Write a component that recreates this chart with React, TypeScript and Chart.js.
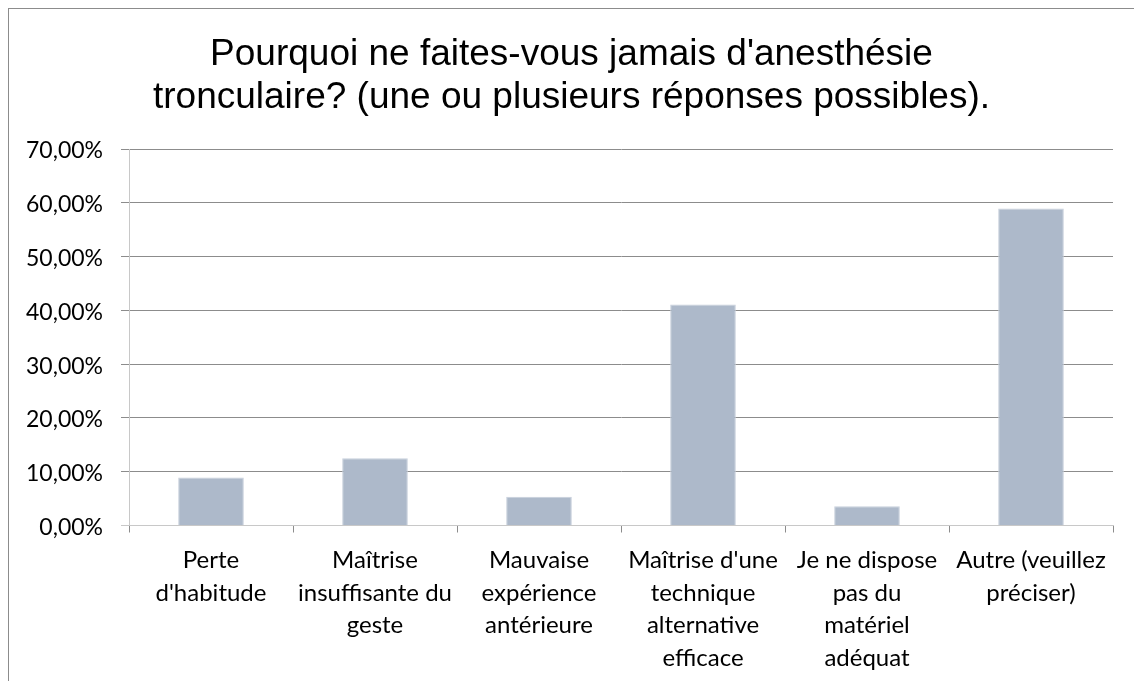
import React, { useEffect, useRef } from "react";
import { Chart, registerables } from "chart.js";

Chart.register(...registerables);

const titleLines = [
  "Pourquoi ne faites-vous jamais d'anesthésie",
  "tronculaire? (une ou plusieurs réponses possibles).",
];

const categories: string[][] = [
  ["Perte", "d'habitude"],
  ["Maîtrise", "insuffisante du", "geste"],
  ["Mauvaise", "expérience", "antérieure"],
  ["Maîtrise d'une", "technique", "alternative", "efficace"],
  ["Je ne dispose", "pas du", "matériel", "adéquat"],
  ["Autre (veuillez", "préciser)"],
];

const percentages = [8.93, 12.5, 5.36, 41.07, 3.57, 58.93];

const yMin = 0;
const yMax = 70;
const yStep = 10;

const CANVAS_W = 1125;
const CANVAS_H = 672;

export default function App() {
  const canvasRef = useRef<HTMLCanvasElement | null>(null);

  useEffect(() => {
    const canvas = canvasRef.current;
    if (!canvas) return;
    const labelFont = { family: "Lato", size: 24, lineHeight: "32.5px" };
    const chart = new Chart(canvas, {
      type: "bar",
      data: {
        labels: categories,
        datasets: [
          {
            data: percentages,
            backgroundColor: "#ADB9CA",
            borderColor: "#C7CFDB",
            borderWidth: 1,
            barPercentage: 0.4,
            categoryPercentage: 1,
          },
        ],
      },
      options: {
        animation: false,
        responsive: false,
        maintainAspectRatio: false,
        devicePixelRatio: 1,
        layout: { padding: 0 },
        plugins: {
          legend: { display: false },
          tooltip: { enabled: false },
          title: {
            display: true,
            text: titleLines,
            color: "#000000",
            font: { family: "Liberation Sans", size: 37, weight: "normal", lineHeight: "43px" },
            padding: { top: 24, bottom: 30 },
          },
        },
        scales: {
          x: {
            grid: {
              offset: true,
              drawOnChartArea: false,
              drawTicks: true,
              tickLength: 7,
              tickColor: "#8C8C8C",
            },
            border: { display: true, color: "#C8C8C8", width: 1 },
            ticks: {
              color: "#000000",
              font: labelFont,
              padding: 12,
              maxRotation: 0,
              minRotation: 0,
              autoSkip: false,
            },
            afterFit: (s: any) => {
              s.height = 155.5;
            },
          },
          y: {
            position: "left",
            min: yMin,
            max: yMax,
            grid: {
              color: (c: any) => (c.tick && c.tick.value === 0 ? "#C8C8C8" : "#8C8C8C"),
              tickLength: 8,
              drawTicks: true,
            },
            border: { display: true, color: "#C8C8C8", width: 1 },
            ticks: {
              stepSize: yStep,
              color: "#000000",
              font: { family: "Lato", size: 23 },
              padding: 18,
              labelOffset: 2,
              callback: (v: any) => Number(v).toFixed(2).replace(".", ",") + "%",
            },
            afterFit: (s: any) => {
              s.width = 120;
            },
          },
          yRightSpace: {
            position: "right",
            display: true,
            grid: { display: false, drawTicks: false },
            border: { display: false },
            ticks: { display: false },
            afterFit: (s: any) => {
              s.width = 21;
            },
          },
        },
      },
    });
    return () => chart.destroy();
  }, []);

  return (
    <div
      style={{
        position: "fixed",
        left: 8,
        top: 8,
        width: CANVAS_W + 1,
        height: CANVAS_H + 1,
        borderTop: "1px solid #8C8C8C",
        borderLeft: "1px solid #8C8C8C",
        boxSizing: "border-box",
        background: "#FFFFFF",
      }}
    >
      <canvas
        ref={canvasRef}
        width={CANVAS_W}
        height={CANVAS_H}
        style={{ display: "block", width: CANVAS_W, height: CANVAS_H }}
      />
    </div>
  );
}
